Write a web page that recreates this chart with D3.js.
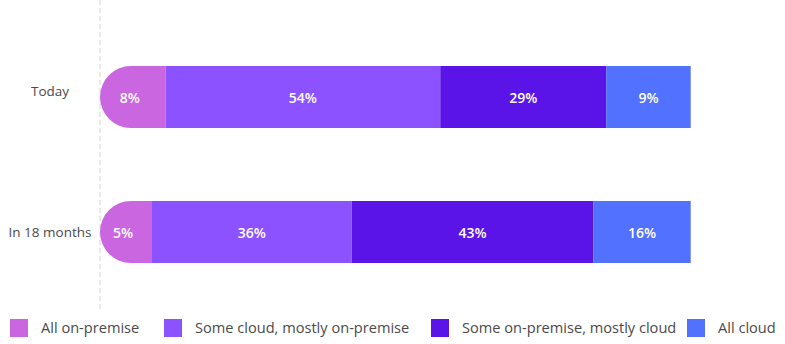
<!DOCTYPE html>
<html>
<head>
<meta charset="utf-8">
<script src="https://cdn.jsdelivr.net/npm/d3@7"></script>
<style>
  body { margin: 0; background: #fff; }
  svg { display: block; font-family: "Open Sans", sans-serif; }
</style>
</head>
<body>
<div id="chart"></div>
<script>
// categories (rows) and series
const periods = ["Today", "In 18 months"];
const seriesNames = ["All on-premise", "Some cloud, mostly on-premise", "Some on-premise, mostly cloud", "All cloud"];
const seriesColors = ["#c966e0", "#8c52ff", "#5b14e8", "#5271ff"];

// printed percentages
const labelsToday = ["8%", "54%", "29%", "9%"];
const labelsLater = ["5%", "36%", "43%", "16%"];

// segment lengths as drawn (share of full bar)
const shareToday = [11.1, 46.5, 28.1, 14.3];
const shareLater = [8.8, 33.8, 40.9, 16.5];

const width = 785, height = 344;
const barH = 62;

const svg = d3.select("#chart").append("svg")
  .attr("width", width)
  .attr("height", height);

let x = d3.scaleLinear().domain([0, 100]).range([100, 690.7]);
let y = d3.scalePoint().domain(periods).range([97, 232]);
// row titles sit a little off the bar centre
let yTitle = d3.scalePoint().domain(periods).range([91.5, 232.5]);

// dashed baseline
svg.append("line")
  .attr("x1", x(0)).attr("x2", x(0))
  .attr("y1", 0).attr("y2", 310)
  .attr("stroke", "#d4d4d4")
  .attr("stroke-width", 1)
  .attr("stroke-dasharray", "5,3");

const rows = [
  { period: periods[0], shares: shareToday, labels: labelsToday },
  { period: periods[1], shares: shareLater, labels: labelsLater }
];

rows.forEach(row => {
  let cum = 0;
  const segs = row.shares.map((v, i) => {
    const s = { i: i, x0: cum, x1: cum + v, label: row.labels[i] };
    cum += v;
    return s;
  });
  const top = y(row.period) - barH / 2, r = barH / 2;
  const g = svg.append("g");

  g.selectAll("path.seg")
    .data(segs)
    .enter().append("path")
    .attr("class", "seg")
    .attr("fill", d => seriesColors[d.i])
    .attr("d", d => {
      const p = d3.path();
      const a = x(d.x0), b = x(d.x1);
      if (d.i === 0) {
        // rounded left cap
        p.moveTo(a + r, top);
        p.lineTo(b, top);
        p.lineTo(b, top + barH);
        p.lineTo(a + r, top + barH);
        p.arc(a + r, top + r, r, Math.PI / 2, Math.PI * 1.5);
      } else {
        p.rect(a, top, b - a, barH);
      }
      p.closePath();
      return p.toString();
    });

  g.selectAll("text.val")
    .data(segs)
    .enter().append("text")
    .attr("class", "val")
    .attr("x", d => d.i === 0 ? (x(d.x0) + x(d.x1)) / 2 - 3 : (x(d.x0) + x(d.x1)) / 2)
    .attr("y", y(row.period) + 1)
    .attr("dy", "0.35em")
    .attr("text-anchor", "middle")
    .attr("fill", "#fff")
    .attr("font-weight", 600)
    .attr("font-size", 14)
    .text(d => d.label);

  svg.append("text")
    .attr("x", 50)
    .attr("y", yTitle(row.period))
    .attr("dy", "0.35em")
    .attr("text-anchor", "middle")
    .attr("fill", "#4a4a4a")
    .attr("font-size", 13.5)
    .text(row.period);
});

// legend
const legendX = [10, 164, 431, 687];
const legend = svg.append("g").selectAll("g")
  .data(seriesNames)
  .enter().append("g")
  .attr("transform", (d, i) => "translate(" + legendX[i] + ",319)");

legend.append("rect")
  .attr("width", 18)
  .attr("height", 18)
  .attr("fill", (d, i) => seriesColors[i]);

legend.append("text")
  .attr("x", 31)
  .attr("y", 9)
  .attr("dy", "0.35em")
  .attr("fill", "#4a4a4a")
  .attr("font-size", 14.6)
  .text(d => d);
</script>
</body>
</html>
